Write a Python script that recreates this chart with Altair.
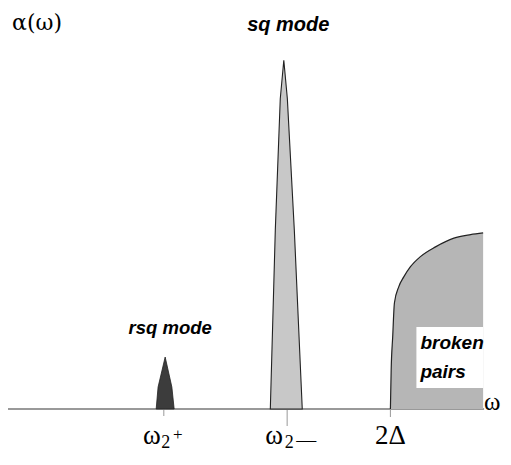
import altair as alt
import pandas as pd

# ---- data (omega, alpha in arbitrary units) ----
rsq_w = [0.775, 0.785, 0.822, 0.857, 0.869]
rsq_a = [0.0, 0.063, 0.149, 0.063, 0.0]

sq_w = [1.372, 1.398, 1.424, 1.4425, 1.461, 1.4975, 1.539]
sq_a = [0.0, 0.513, 0.890, 1.0, 0.890, 0.513, 0.0]

bp_w = [2.0, 2.004, 2.012, 2.021, 2.044, 2.070, 2.105, 2.157, 2.236, 2.332, 2.419, 2.485]
bp_a = [0.0, 0.112, 0.207, 0.304, 0.351, 0.379, 0.408, 0.437, 0.465, 0.490, 0.500, 0.505]

tick_w = [0.815, 1.46, 2.0]
tick_len = [7, 17, 8]

ann_text = ["sq mode", "rsq mode"]
ann_w = [1.466, 0.848]
ann_a = [1.101, 0.232]
ann_size = [20, 18.5]

bp_text = ["broken", "pairs"]
bp_tw = [2.157, 2.157]
bp_ta = [0.189, 0.106]
bp_box = dict(w1=2.136, w2=2.485, a1=0.060, a2=0.235)

XD = [0, 2.5]
YD = [0, 1.15]
W, H = 478, 401

xs = alt.Scale(domain=XD, nice=False, zero=False)
ys = alt.Scale(domain=YD, nice=False, zero=False)


def xe(f):
    return alt.X(f, type="quantitative", scale=xs, axis=None)


def ye(f):
    return alt.Y(f, type="quantitative", scale=ys, axis=None)


rsq = pd.DataFrame({"w": rsq_w, "a": rsq_a})
sq = pd.DataFrame({"w": sq_w, "a": sq_a})
bp = pd.DataFrame({"w": bp_w, "a": bp_a})

layers = []

# baseline
base_df = pd.DataFrame({"w": [0.0], "w2": [2.49], "a": [0.0]})
layers.append(alt.Chart(base_df).mark_rule(color="#777777", strokeWidth=1.3).encode(
    x=xe("w"), x2="w2", y=ye("a")))

# ticks
for tw, tl in zip(tick_w, tick_len):
    tdf = pd.DataFrame({"w": [tw]})
    layers.append(alt.Chart(tdf).mark_rule(color="#999999", strokeWidth=1).encode(
        x=xe("w"), y=alt.value(H), y2=alt.value(H + tl)))

# broken pairs continuum
layers.append(alt.Chart(bp).mark_area(color="#b6b6b6", interpolate="monotone").encode(
    x=xe("w"), y=ye("a")))
layers.append(alt.Chart(bp).mark_line(color="#222222", strokeWidth=1.2, interpolate="monotone").encode(
    x=xe("w"), y=ye("a")))

# sq mode
layers.append(alt.Chart(sq).mark_area(color="#c8c8c8", stroke="#222222", strokeWidth=1.1,
                                      interpolate="linear").encode(x=xe("w"), y=ye("a")))
# rsq mode
layers.append(alt.Chart(rsq).mark_area(color="#3c3c3c", stroke="#222222", strokeWidth=0.8,
                                       interpolate="linear").encode(x=xe("w"), y=ye("a")))

# white box behind "broken pairs"
box_df = pd.DataFrame([bp_box])
layers.append(alt.Chart(box_df).mark_rect(color="white").encode(
    x=xe("w1"), x2="w2", y=ye("a1"), y2="a2"))

# annotations
for t, w, a, s in zip(ann_text, ann_w, ann_a, ann_size):
    adf = pd.DataFrame({"t": [t], "w": [w], "a": [a]})
    layers.append(alt.Chart(adf).mark_text(font="Liberation Sans", fontSize=s, fontWeight="bold",
                                           fontStyle="italic", color="black").encode(
        x=xe("w"), y=ye("a"), text="t:N"))
bpt = pd.DataFrame({"t": bp_text, "w": bp_tw, "a": bp_ta})
layers.append(alt.Chart(bpt).mark_text(font="Liberation Sans", fontSize=19, fontWeight="bold",
                                       fontStyle="italic", align="left", color="black").encode(
    x=xe("w"), y=ye("a"), text="t:N"))

# axis-like labels (serif math)
serif = "Liberation Serif"
lab_y = -0.076
main_lab = pd.DataFrame({"t": ["ω", "ω", "2Δ"], "w": tick_w, "a": [lab_y] * 3,
                         "dx": [-12, -13, 0], "fs": [27, 27, 27]})
for i in range(3):
    r = main_lab.iloc[[i]]
    layers.append(alt.Chart(r).mark_text(font=serif, fontSize=float(r["fs"].iloc[0]),
                                         dx=float(r["dx"].iloc[0]),
                                         color="black").encode(x=xe("w"), y=ye("a"), text="t:N"))
sub2 = pd.DataFrame({"t": ["2", "2"], "w": tick_w[:2], "a": [lab_y] * 2})
layers.append(alt.Chart(sub2).mark_text(font=serif, fontSize=18, dx=2, dy=7, color="black").encode(
    x=xe("w"), y=ye("a"), text="t:N"))
sup_p = pd.DataFrame({"t": ["+"], "w": [tick_w[0]], "a": [lab_y]})
layers.append(alt.Chart(sup_p).mark_text(font=serif, fontSize=17, dx=14, dy=-1, color="black").encode(
    x=xe("w"), y=ye("a"), text="t:N"))
sup_m = pd.DataFrame({"t": ["—"], "w": [tick_w[1]], "a": [lab_y]})
layers.append(alt.Chart(sup_m).mark_text(font=serif, fontSize=20, dx=19, dy=5, color="black").encode(
    x=xe("w"), y=ye("a"), text="t:N"))

# omega at right end
rw = pd.DataFrame({"t": ["ω"], "w": [2.49], "a": [0.02]})
layers.append(alt.Chart(rw).mark_text(font=serif, fontSize=25, align="left", color="black").encode(
    x=xe("w"), y=ye("a"), text="t:N"))
# alpha(omega) top left
aw = pd.DataFrame({"t": ["α(ω)"], "w": [0.152], "a": [1.106]})
layers.append(alt.Chart(aw).mark_text(font="DejaVu Serif", fontSize=22, color="black").encode(
    x=xe("w"), y=ye("a"), text="t:N"))

chart = alt.layer(*layers).properties(
    width=W, height=H,
    autosize=alt.AutoSizeParams(type="none"),
    padding={"left": 0, "top": 0, "right": 17, "bottom": 44},
).configure_view(strokeWidth=0)
chart.save("out.html", embed_options={"renderer": "svg", "actions": False})
